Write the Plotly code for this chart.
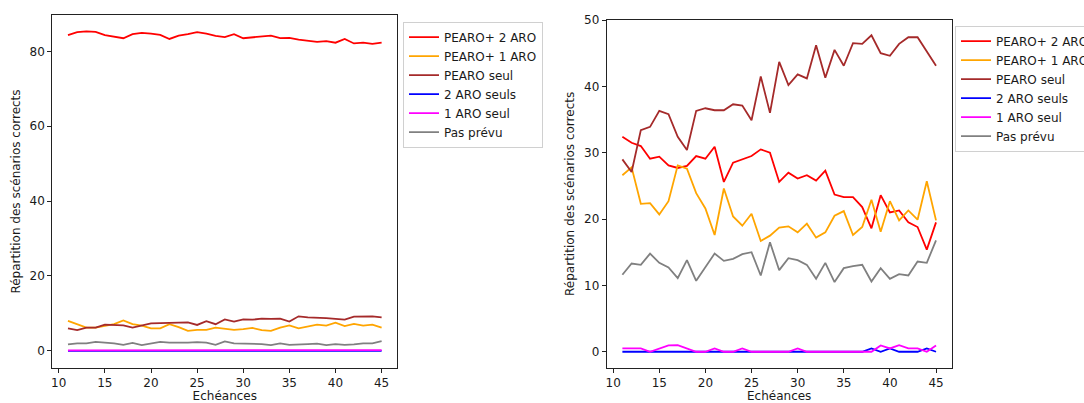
import plotly.graph_objects as go

echeances = list(range(11, 46))

# Left panel (all scenarios)
left_pearo_2aro = [84.3, 85.1, 85.3, 85.2, 84.3, 83.8, 83.5, 84.6, 84.9, 84.7,
                   84.4, 83.3, 84.2, 84.6, 85.1, 84.7, 84.1, 83.8, 84.6, 83.5,
                   83.8, 84.1, 84.2, 83.5, 83.6, 83.1, 82.8, 82.5, 82.7, 82.3,
                   83.3, 82.1, 82.3, 82.0, 82.3]
left_pearo_1aro = [8.0, 7.1, 6.2, 6.2, 6.7, 7.1, 8.1, 7.1, 6.7, 6.0,
                   6.0, 7.1, 6.3, 5.3, 5.6, 5.6, 6.2, 5.8, 5.6, 5.8,
                   6.1, 5.5, 5.3, 6.2, 6.8, 6.0, 6.5, 7.0, 6.7, 7.5,
                   6.6, 7.2, 6.7, 7.0, 6.2]
left_pearo_seul = [6.0, 5.5, 6.2, 6.2, 7.0, 7.0, 6.8, 6.2, 6.8, 7.3,
                   7.4, 7.4, 7.5, 7.6, 6.9, 7.9, 7.1, 8.4, 7.8, 8.4,
                   8.3, 8.6, 8.5, 8.6, 7.8, 9.2, 8.9, 8.9, 8.7, 8.5,
                   8.3, 9.1, 9.1, 9.2, 8.9]
left_2aro = [0.0, 0.0, 0.0, 0.0, 0.0, 0.0, 0.0, 0.0, 0.0, 0.0,
             0.0, 0.0, 0.0, 0.0, 0.0, 0.0, 0.0, 0.0, 0.0, 0.0,
             0.0, 0.0, 0.0, 0.0, 0.0, 0.0, 0.0, 0.05, 0.0, 0.05,
             0.0, 0.0, 0.0, 0.05, 0.0]
left_1aro = [0.1, 0.1, 0.1, 0.0, 0.1, 0.2, 0.2, 0.1, 0.0, 0.0,
             0.1, 0.0, 0.0, 0.1, 0.0, 0.0, 0.0, 0.0, 0.0, 0.1,
             0.0, 0.0, 0.0, 0.0, 0.0, 0.0, 0.0, 0.0, 0.2, 0.1,
             0.2, 0.1, 0.1, 0.0, 0.2]
left_pas_prevu = [1.7, 2.0, 2.0, 2.4, 2.2, 2.0, 1.6, 2.1, 1.5, 2.0,
                  2.4, 2.2, 2.1, 2.2, 2.3, 2.2, 1.6, 2.5, 2.0, 2.0,
                  2.0, 1.8, 1.5, 2.0, 1.6, 1.8, 1.8, 1.9, 1.5, 1.8,
                  1.6, 1.7, 2.0, 2.0, 2.6]

# Right panel
right_pearo_2aro = [32.4, 31.5, 31.0, 29.1, 29.4, 28.1, 27.7, 28.0, 29.5, 29.1,
                    30.9, 25.6, 28.5, 29.0, 29.5, 30.5, 30.0, 25.6, 27.0, 26.1,
                    26.6, 25.8, 27.3, 23.7, 23.3, 23.3, 21.8, 18.6, 23.6, 21.0,
                    21.3, 19.5, 18.8, 15.4, 19.5]
right_pearo_1aro = [26.6, 27.8, 22.3, 22.4, 20.7, 22.7, 28.1, 27.6, 23.9, 21.6,
                    17.6, 24.6, 20.4, 19.0, 20.8, 16.7, 17.5, 18.7, 18.9, 18.0,
                    19.3, 17.2, 18.0, 20.5, 21.2, 17.6, 18.8, 22.9, 18.1, 22.7,
                    19.8, 21.3, 19.9, 25.7, 19.8]
right_pearo_seul = [29.0, 27.1, 33.4, 33.9, 36.3, 35.8, 32.4, 30.4, 36.3, 36.7,
                    36.4, 36.4, 37.3, 37.1, 34.9, 41.5, 36.0, 43.7, 40.2, 41.8,
                    41.2, 46.2, 41.3, 45.5, 43.1, 46.5, 46.4, 47.7, 45.0, 44.6,
                    46.4, 47.4, 47.4, 45.2, 43.1]
right_2aro = [0.0, 0.0, 0.0, 0.0, 0.0, 0.0, 0.0, 0.0, 0.0, 0.0,
              0.0, 0.0, 0.0, 0.0, 0.0, 0.0, 0.0, 0.0, 0.0, 0.0,
              0.0, 0.0, 0.0, 0.0, 0.0, 0.0, 0.0, 0.5, 0.0, 0.5,
              0.0, 0.0, 0.0, 0.5, 0.0]
right_1aro = [0.5, 0.5, 0.5, 0.0, 0.5, 0.95, 1.0, 0.5, 0.0, 0.0,
              0.5, 0.0, 0.0, 0.5, 0.0, 0.0, 0.0, 0.0, 0.0, 0.5,
              0.0, 0.0, 0.0, 0.0, 0.0, 0.0, 0.0, 0.0, 0.95, 0.5,
              1.0, 0.5, 0.5, 0.0, 0.95]
right_pas_prevu = [11.6, 13.3, 13.1, 14.8, 13.4, 12.7, 11.1, 13.8, 10.7, 12.8,
                   14.8, 13.7, 14.0, 14.7, 15.0, 11.5, 16.5, 12.3, 14.1, 13.8,
                   13.1, 11.0, 13.4, 10.5, 12.6, 12.9, 13.1, 10.6, 12.6, 11.0,
                   11.7, 11.5, 13.6, 13.4, 16.8]

names = ["PEARO+ 2 ARO", "PEARO+ 1 ARO", "PEARO seul", "2 ARO seuls", "1 ARO seul", "Pas prévu"]
colors = ["red", "orange", "brown", "blue", "magenta", "gray"]
left_series = [left_pearo_2aro, left_pearo_1aro, left_pearo_seul, left_2aro, left_1aro, left_pas_prevu]
right_series = [right_pearo_2aro, right_pearo_1aro, right_pearo_seul, right_2aro, right_1aro, right_pas_prevu]

W, H = 1084, 403
FONT = "DejaVu Sans"
TXT = "#1a1a1a"

fig = go.Figure()
for name, col, ys in zip(names, colors, left_series):
    fig.add_trace(go.Scatter(x=echeances, y=ys, mode="lines", name=name,
                             line=dict(color=col, width=1.8),
                             xaxis="x", yaxis="y", legend="legend"))
for name, col, ys in zip(names, colors, right_series):
    fig.add_trace(go.Scatter(x=echeances, y=ys, mode="lines", name=name,
                             line=dict(color=col, width=1.8),
                             xaxis="x2", yaxis="y2", legend="legend2"))

def px_x(p):
    return p / W

def px_y(p):
    return (H - p) / H

axis_common = dict(showline=True, mirror=True, linecolor="#222", linewidth=1,
                   ticks="outside", ticklen=4, tickwidth=1, tickcolor="#222",
                   showgrid=False, zeroline=False,
                   tickfont=dict(family=FONT, size=12, color=TXT))

fig.update_layout(
    width=W, height=H,
    margin=dict(l=0, r=0, t=0, b=0, autoexpand=False),
    paper_bgcolor="white", plot_bgcolor="white",
    font=dict(family=FONT, size=12, color=TXT),
    xaxis=dict(domain=[px_x(52.3), px_x(397.3)], range=[9.3, 46.7],
               tickmode="linear", tick0=10, dtick=5, anchor="y",
               title=dict(text="Echéances", font=dict(family=FONT, size=12, color=TXT), standoff=4),
               **axis_common),
    yaxis=dict(domain=[px_y(368), px_y(15)], range=[-4.6, 89.7],
               tickmode="linear", tick0=0, dtick=20, anchor="x",
               title=dict(text="Répartition des scénarios corrects", font=dict(family=FONT, size=12, color=TXT), standoff=6),
               **axis_common),
    xaxis2=dict(domain=[px_x(606.7), px_x(951.7)], range=[9.3, 46.7],
                tickmode="linear", tick0=10, dtick=5, anchor="y2",
                title=dict(text="Echéances", font=dict(family=FONT, size=12, color=TXT), standoff=4),
                **axis_common),
    yaxis2=dict(domain=[px_y(367.7), px_y(20)], range=[-2.4, 50],
                tickmode="linear", tick0=0, dtick=10, anchor="x2",
                title=dict(text="Répartition des scénarios corrects", font=dict(family=FONT, size=12, color=TXT), standoff=6),
                **axis_common),
    legend=dict(x=px_x(403), y=px_y(21.7), xanchor="left", yanchor="top",
                bordercolor="#d0d0d0", borderwidth=1, bgcolor="white",
                font=dict(family=FONT, size=12, color=TXT), tracegroupgap=0),
    legend2=dict(x=px_x(955), y=px_y(25.7), xanchor="left", yanchor="top",
                 bordercolor="#d0d0d0", borderwidth=1, bgcolor="white",
                 font=dict(family=FONT, size=12, color=TXT), tracegroupgap=0),
)

fig.write_html("out.html",
               config={"displayModeBar": False},
               post_script="document.body.style.margin='0';document.body.style.padding='0';document.body.style.overflow='hidden';")
